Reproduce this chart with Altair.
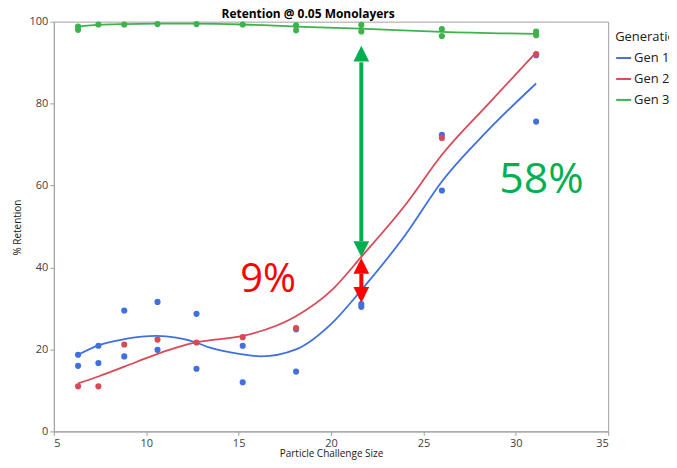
import altair as alt
import pandas as pd

chart_title = "Retention @ 0.05 Monolayers"
x_title = "Particle Challenge Size"
y_title = "% Retention"
series = ["Gen 1", "Gen 2", "Gen 3"]
colors = ["#4070e0", "#d84a58", "#3cb44b"]

# observed points
gen1_x = [6.31, 6.31, 7.41, 7.41, 8.81, 8.81, 10.61, 10.61, 12.72, 12.72, 15.22, 15.22,
          18.11, 18.11, 21.64, 21.64, 26.0, 26.0, 31.1, 31.1]
gen1_y = [18.7, 16.0, 20.9, 16.7, 29.5, 18.3, 31.6, 19.9, 28.7, 15.3, 20.9, 12.0,
          24.9, 14.6, 31.1, 30.4, 72.4, 58.8, 91.8, 75.6]
gen2_x = [6.31, 7.41, 8.81, 10.61, 12.72, 15.22, 18.11, 21.64, 26.0, 31.1]
gen2_y = [11.0, 11.0, 21.2, 22.4, 21.7, 23.0, 25.2, 33.0, 71.6, 92.1]
gen3_x = [6.31, 6.31, 7.41, 8.81, 10.61, 12.72, 15.22, 18.11, 18.11, 21.64, 21.64,
          26.0, 26.0, 31.1, 31.1, 31.1]
gen3_y = [98.8, 98.0, 99.3, 99.3, 99.4, 99.4, 99.3, 99.1, 97.9, 99.2, 97.6,
          98.2, 96.5, 97.6, 96.7, 97.1]

# fitted curves
fit1_x = [6.31, 7.41, 8.81, 10.54, 12.7, 13.4, 15.22, 16.2, 18.1, 20.07, 21.66, 24.03, 26.0, 28.5, 31.1]
fit1_y = [18.7, 21.0, 22.5, 23.3, 21.7, 20.5, 18.8, 18.3, 20.0, 26.5, 34.6, 48.0, 61.0, 73.5, 84.9]
fit2_x = [6.31, 7.41, 8.81, 10.54, 12.7, 13.4, 15.22, 18.1, 20.07, 21.66, 24.03, 26.0, 28.53, 31.1]
fit2_y = [11.7, 13.4, 15.8, 18.8, 21.7, 22.2, 23.3, 28.1, 34.6, 42.7, 55.3, 67.5, 80.0, 92.5]
fit3_x = [6.31, 7.41, 8.81, 10.6, 12.7, 15.2, 18.1, 21.6, 26.0, 31.1]
fit3_y = [98.8, 99.2, 99.4, 99.5, 99.5, 99.3, 98.8, 98.3, 97.5, 97.0]

# annotations
arrow_x = 21.64
green_shaft = [46.4, 90.1]
green_heads_y = [92.2, 44.5]
red_shaft = [34.8, 38.5]
red_heads_y = [40.4, 33.3]
label_text = ["9%", "58%"]
label_x = [16.6, 31.39]
label_y = [33.9, 58.2]
label_colors = ["#ff0000", "#00b050"]
label_sizes = [40, 43]

pts = pd.concat([
    pd.DataFrame({"x": gen1_x, "y": gen1_y, "Generation": series[0]}),
    pd.DataFrame({"x": gen2_x, "y": gen2_y, "Generation": series[1]}),
    pd.DataFrame({"x": gen3_x, "y": gen3_y, "Generation": series[2]}),
])
fits = pd.concat([
    pd.DataFrame({"x": fit1_x, "y": fit1_y, "Generation": series[0]}),
    pd.DataFrame({"x": fit2_x, "y": fit2_y, "Generation": series[1]}),
    pd.DataFrame({"x": fit3_x, "y": fit3_y, "Generation": series[2]}),
])

xs = alt.Scale(domain=[5, 35], nice=False, zero=False)
ys = alt.Scale(domain=[0, 100], nice=False)
cs = alt.Scale(domain=series, range=colors)
leg = alt.Legend(title="Generation", symbolType="stroke", orient="none",
                 legendX=563, legendY=9)

xenc = alt.X("x:Q", scale=xs, title=x_title,
             axis=alt.Axis(values=[5, 10, 15, 20, 25, 30, 35], titlePadding=0, labelPadding=2))
yenc = alt.Y("y:Q", scale=ys, title=y_title,
             axis=alt.Axis(values=[0, 20, 40, 60, 80, 100], titleX=-31, titleY=206))

points = alt.Chart(pts).mark_circle(size=38, opacity=1).encode(
    x=xenc, y=yenc, color=alt.Color("Generation:N", scale=cs, legend=leg))
lines = alt.Chart(fits).mark_line(strokeWidth=1.8, interpolate="monotone").encode(
    x="x:Q", y="y:Q", color=alt.Color("Generation:N", scale=cs, legend=leg))

green_df = pd.DataFrame({"x": [arrow_x], "y": [green_shaft[0]], "y2": [green_shaft[1]]})
red_df = pd.DataFrame({"x": [arrow_x], "y": [red_shaft[0]], "y2": [red_shaft[1]]})
g_shaft = alt.Chart(green_df).mark_rule(color="#00b050", strokeWidth=4).encode(x="x:Q", y="y:Q", y2="y2")
r_shaft = alt.Chart(red_df).mark_rule(color="#ff0000", strokeWidth=4).encode(x="x:Q", y="y:Q", y2="y2")

up = "M0,-1L1,1L-1,1Z"
down = "M0,1L1,-1L-1,-1Z"
def head(yv, shape, color):
    return alt.Chart(pd.DataFrame({"x": [arrow_x], "y": [yv]})).mark_point(
        shape=shape, size=250, filled=True, opacity=1, color=color, strokeWidth=0
    ).encode(x="x:Q", y="y:Q")

heads = [head(green_heads_y[0], up, "#00b050"), head(green_heads_y[1], down, "#00b050"),
         head(red_heads_y[0], up, "#ff0000"), head(red_heads_y[1], down, "#ff0000")]

texts = []
for t, tx, ty, c, s in zip(label_text, label_x, label_y, label_colors, label_sizes):
    texts.append(alt.Chart(pd.DataFrame({"x": [tx], "y": [ty], "t": [t]})).mark_text(
        color=c, fontSize=s, align="center", baseline="alphabetic"
    ).encode(x="x:Q", y="y:Q", text="t:N"))

chart = alt.layer(points, lines, g_shaft, r_shaft, *heads, *texts).properties(
    width=556, height=411,
    title=alt.TitleParams(chart_title, fontSize=12, fontWeight="bold", color="#000000",
                          anchor="middle", dx=-23, offset=-5),
    autosize=alt.AutoSizeParams(type="none"),
    padding={"left": 46, "top": 13, "right": 61, "bottom": 28},
).configure(font="Open Sans").configure_view(
    stroke="#a0a0a0", strokeWidth=1
).configure_axis(
    grid=False, domainColor="#a0a0a0", tickColor="#a0a0a0", tickSize=4,
    labelColor="#404040", labelFontSize=11,
    titleFontSize=10, titleFontWeight="normal", titleColor="#202020"
).configure_legend(
    titleFontSize=13, titleFontWeight="normal", titleColor="#202020",
    labelFontSize=13, labelColor="#202020", symbolSize=225, symbolStrokeWidth=2,
    rowPadding=5, titlePadding=6, labelOffset=2
)

chart.save("out.html", embed_options={"renderer": "svg", "actions": False})
